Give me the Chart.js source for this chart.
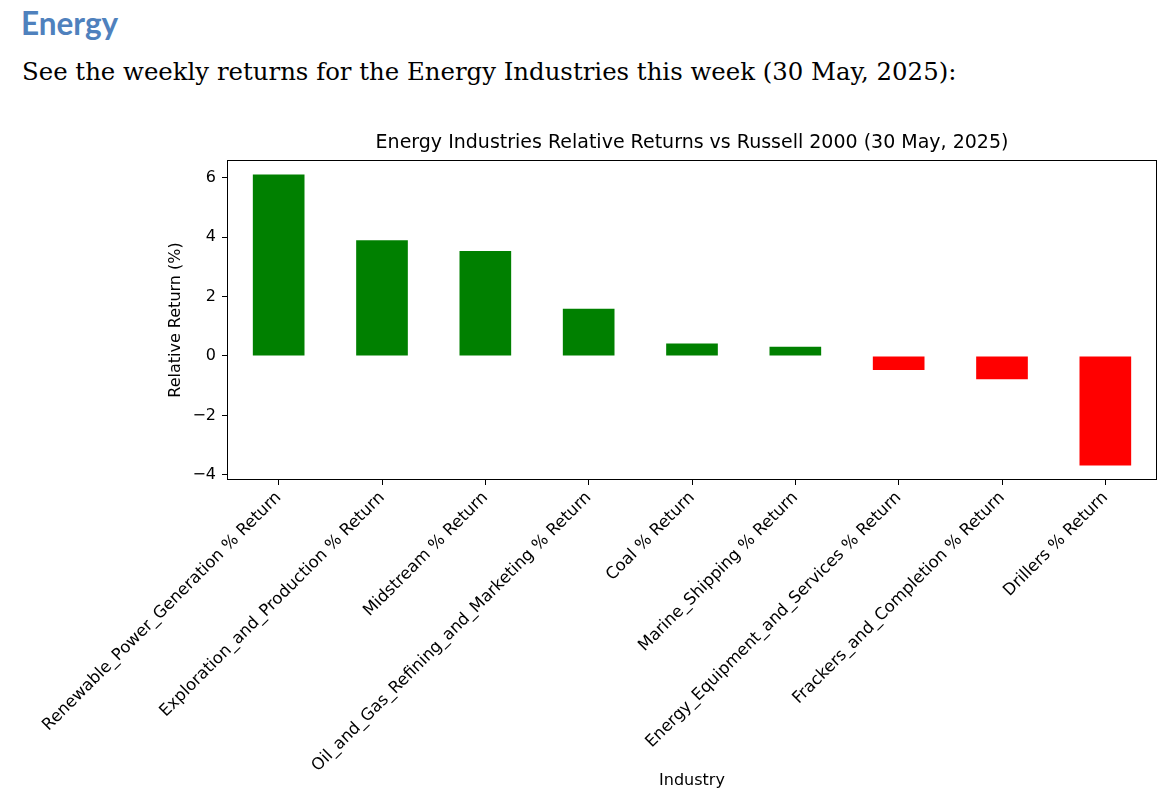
<!DOCTYPE html>
<html>
<head>
<meta charset="utf-8">
<script src="https://cdn.jsdelivr.net/npm/chart.js@4"></script>
<style>
body { margin: 0; background: #fff; width: 1172px; height: 792px; overflow: hidden; position: relative; }
#head { position: absolute; left: 21px; top: 8px; font-family: Lato, "Open Sans", sans-serif; font-weight: bold; font-size: 31.5px; line-height: 1; color: #4f81bd; }
#sub { position: absolute; left: 22px; top: 60px; font-family: "DejaVu Serif", serif; font-size: 24.4px; line-height: 1; color: #000; white-space: nowrap; }
#chart { position: absolute; left: 0; top: 100px; }
</style>
</head>
<body>
<div id="head">Energy</div>
<div id="sub">See the weekly returns for the Energy Industries this week (30 May, 2025):</div>
<canvas id="chart" width="1172" height="692"></canvas>
<script>
// data
const industries = [
  "Renewable_Power_Generation % Return",
  "Exploration_and_Production % Return",
  "Midstream % Return",
  "Oil_and_Gas_Refining_and_Marketing % Return",
  "Coal % Return",
  "Marine_Shipping % Return",
  "Energy_Equipment_and_Services % Return",
  "Frackers_and_Completion % Return",
  "Drillers % Return"
];
const relReturns = [6.10, 3.89, 3.53, 1.59, 0.42, 0.31, -0.47, -0.78, -3.68];
const yTicks = [-4, -2, 0, 2, 4, 6];

const barColors = relReturns.map(v => v >= 0 ? "#008000" : "#ff0000");

// box around the plot area, like matplotlib axes
const frame = {
  id: "frame",
  afterDraw(chart) {
    const a = chart.chartArea, ctx = chart.ctx;
    ctx.save();
    ctx.strokeStyle = "#000";
    ctx.lineWidth = 1;
    ctx.strokeRect(a.left + 0.5, a.top + 0.5, a.right - a.left - 1, a.bottom - a.top - 1);
    ctx.restore();
  }
};

Chart.defaults.font.family = "'DejaVu Sans', sans-serif";
Chart.defaults.color = "#000";

new Chart(document.getElementById("chart"), {
  type: "bar",
  data: {
    labels: industries,
    datasets: [{
      data: relReturns,
      backgroundColor: barColors,
      borderWidth: 0,
      barPercentage: 0.5,
      categoryPercentage: 1.0
    }]
  },
  options: {
    responsive: false,
    animation: false,
    devicePixelRatio: 1,
    layout: { padding: { left: 160, right: 15, top: 0, bottom: 0 } },
    plugins: {
      legend: { display: false },
      tooltip: { enabled: false },
      title: {
        display: true,
        fullSize: false,
        text: "Energy Industries Relative Returns vs Russell 2000 (30 May, 2025)",
        font: { size: 19, weight: "normal" },
        color: "#000",
        padding: { top: 32, bottom: 5.2 }
      }
    },
    scales: {
      x: {
        offset: true,
        border: { display: false },
        grid: { drawOnChartArea: false, drawTicks: true, tickLength: 5, color: "#000", offset: false },
        ticks: { maxRotation: 45, minRotation: 45, autoSkip: false, padding: 3, font: { size: 16.5 } },
        title: { display: true, text: "Industry", font: { size: 16 }, padding: { top: 0, bottom: 2 } },
        afterFit(scale) { scale.height = 312; }
      },
      y: {
        min: -4.17,
        max: 6.59,
        border: { display: false },
        grid: { drawOnChartArea: false, drawTicks: true, tickLength: 5, color: "#000" },
        ticks: {
          padding: 6,
          font: { size: 16 },
          callback: v => String(v).replace("-", "\u2212")
        },
        afterBuildTicks(scale) { scale.ticks = yTicks.map(v => ({ value: v })); },
        title: { display: true, text: "Relative Return (%)", font: { size: 16 }, padding: { top: 6.5, bottom: 0 } },
        afterFit(scale) { scale.width = 67; }
      }
    }
  },
  plugins: [frame]
});
</script>
</body>
</html>
